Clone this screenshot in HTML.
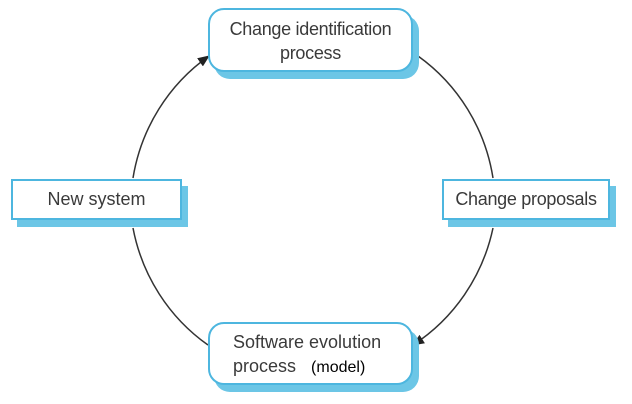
<!DOCTYPE html>
<html><head><meta charset="utf-8"><style>
body{margin:0;width:632px;height:404px;background:#fff;overflow:hidden;position:relative;font-family:"Liberation Sans",sans-serif}
.b{position:absolute;background:#fff;border:2px solid #4db6df;box-shadow:6px 7px 0 #6cc6e6;box-sizing:border-box;color:#3a3a3a;font-size:18px;text-align:center;line-height:24px;white-space:nowrap}
svg{position:absolute;left:0;top:0}
</style></head><body>
<svg width="632" height="404">
<defs><marker id="a" markerWidth="12" markerHeight="10" refX="11" refY="5" orient="auto" markerUnits="userSpaceOnUse"><path d="M0,0 L12,5 L0,10 z" fill="#222"/></marker></defs>
<g fill="none" stroke="#333" stroke-width="1.5">
<path d="M133,178 A182,185 0 0 1 209,56" marker-end="url(#a)"/>
<path d="M418,56 A182,185 0 0 1 493,178"/>
<path d="M493,228 A182,185 0 0 1 413,345" marker-end="url(#a)"/>
<path d="M208,345 A182,185 0 0 1 133,228"/>
</g></svg>
<div class="b" style="left:208px;top:8px;width:205px;height:64px;border-radius:16px;padding-top:7px;letter-spacing:-0.3px">Change identification<br>process</div>
<div class="b" style="left:11px;top:179px;width:171px;height:41px;padding-top:6px">New system</div>
<div class="b" style="left:442px;top:179px;width:168px;height:41px;padding-top:6px;letter-spacing:-0.3px">Change proposals</div>
<div class="b" style="left:208px;top:322px;width:205px;height:63px;border-radius:16px;padding-top:6px;text-align:left;padding-left:23px">Software evolution<br>process&nbsp;&nbsp; <span style="color:#000;font-size:16px">(model)</span></div>
</body></html>
